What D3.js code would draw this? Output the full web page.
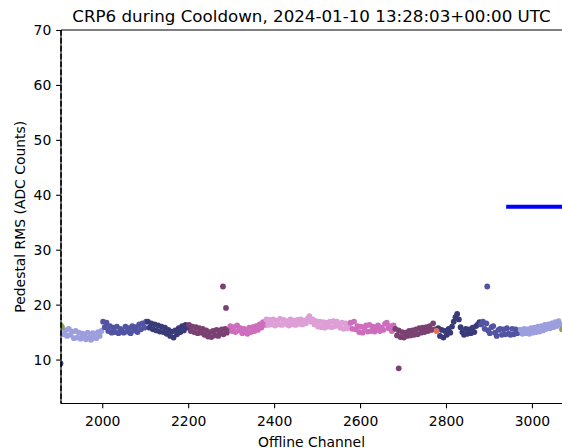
<!DOCTYPE html>
<html lang="en">
<head>
    <meta charset="UTF-8">
    <title>CRP6 pedestal RMS</title>
    <script src="https://cdn.jsdelivr.net/npm/d3@7"></script>
    <style>
        body { margin: 0; background: #fff; }
        text { font-family: "DejaVu Sans", sans-serif; fill: #000; }
    </style>
</head>
<body>
<script>
    // channels in each block are start, start + 4, start + 8 ...
    const step = 4
    const lavender1 = [15.8, 14.6, 15.3, 14.3, 15.6, 14.5, 15.1, 13.9, 15.2, 14.0, 14.9, 13.8, 14.7, 14.3, 13.7, 14.9, 14.0, 13.6, 14.8, 14.2, 13.9, 15.0, 14.3, 15.2]
    const blue1 = [16.9, 15.9, 16.7, 15.2, 16.1, 14.9, 15.8, 15.0, 16.0, 14.8, 15.6, 15.2, 14.9, 16.0, 15.1, 15.7, 14.8, 16.1, 15.3, 15.9, 15.0, 16.4, 15.5, 16.6, 15.8, 16.9]
    const navy1 = [16.9, 15.8, 16.6, 15.5, 16.4, 15.3, 16.2, 15.1, 16.0, 15.0, 15.8, 14.7, 15.4, 14.3, 15.1, 14.0, 15.3, 14.6, 15.7, 15.0, 16.1, 15.3, 16.3, 15.8]
    const purple1 = [16.3, 15.2, 16.0, 15.0, 15.9, 14.8, 15.7, 14.9, 15.6, 14.5, 15.3, 14.2, 15.0, 14.1, 15.2, 14.4, 15.4, 14.3, 14.9, 15.5, 14.6, 15.6, 14.9, 15.4]
    const pink1 = [16.1, 15.2, 15.9, 15.0, 16.2, 15.3, 15.7, 14.8, 15.6, 15.0, 14.7, 15.8, 15.0, 15.9, 15.2, 16.1, 15.4, 16.4, 15.8, 16.8, 16.3]
    const lightPink = [17.3, 16.3, 17.2, 16.4, 17.3, 16.2, 17.1, 16.4, 17.4, 16.3, 17.2, 16.5, 17.0, 16.2, 17.3, 16.4, 17.1, 16.3, 17.2, 16.5,
        17.3, 16.4, 17.1, 16.6, 17.4, 17.9, 16.9, 17.3, 16.4, 17.0, 16.0, 16.9, 15.9, 16.8, 15.8, 16.7, 16.0, 16.9, 15.9, 17.0,
        16.1, 16.9, 16.3, 15.8, 16.7, 15.6, 16.6, 15.7, 16.4]
    const pink2 = [16.7, 15.6, 16.9, 15.5, 16.1, 15.0, 16.0, 14.9, 15.8, 16.2, 15.1, 16.3, 15.2, 16.0, 15.1, 15.9, 16.2, 15.2, 15.8, 15.4, 16.5, 16.7, 15.7, 16.1, 15.2, 16.2]
    const purple2 = [15.6, 14.4, 15.3, 14.1, 15.0, 14.0, 14.9, 14.3, 15.2, 14.4, 15.3, 14.5, 15.5, 14.6, 15.7, 14.9, 15.8, 15.0, 15.9, 15.2, 16.1, 15.4, 16.6, 15.5]
    const navy2 = [15.7, 14.3, 15.4, 14.0, 15.2, 14.5, 15.6, 14.9, 16.0, 16.9, 17.7, 18.3, 17.3, 15.9, 15.0, 14.5, 15.6, 14.7, 15.5, 14.8, 15.8, 15.0, 16.1, 16.4, 16.8]
    const blue2 = [16.4, 16.9, 15.6, 16.6, 15.3, 14.8, 15.9, 16.1, 14.9, 14.3, 15.4, 15.6, 14.5, 15.5, 14.6, 15.7, 14.7, 14.5, 15.6, 14.6, 15.5, 14.8, 15.3]
    const lavender2 = [15.4, 14.7, 15.6, 14.8, 15.5, 14.7, 15.7, 14.9, 15.8, 15.0, 16.0, 15.1, 16.1, 15.3, 16.3, 15.6, 16.4, 15.7, 16.6, 15.9, 16.8, 16.1, 17.0, 16.4]

    // [colour, first channel, values]
    const blocks = [
        ['#9c9ede', 1906, lavender1],
        ['#5254a3', 2002, blue1],
        ['#393b79', 2106, navy1],
        ['#7b4173', 2202, purple1],
        ['#ce6dbd', 2298, pink1],
        ['#de9ed6', 2382, lightPink],
        ['#ce6dbd', 2578, pink2],
        ['#7b4173', 2682, purple2],
        ['#393b79', 2782, navy2],
        ['#5254a3', 2882, blue2],
        ['#9c9ede', 2974, lavender2]
    ]

    // single channels
    const extraChannels = [1904, 1906, 3070, 1903, 2281, 2288, 2690, 2896, 2778]
    const extraValues = [16.2, 15.9, 15.5, 9.3, 23.3, 19.4, 8.4, 23.3, 15.2]
    const extraColors = ['#8ca252', '#8ca252', '#8ca252', '#393b79', '#7b4173', '#7b4173', '#7b4173', '#5254a3', '#e4705f']

    const thresholdChannels = [2940, 3075]
    const thresholdValue = 37.8
    const boundaryChannel = 1904

    const xTicks = [2000, 2200, 2400, 2600, 2800, 3000]
    const yTicks = [10, 20, 30, 40, 50, 60, 70]

    const [width, height] = [562, 448]
    const margin = {top: 30, right: 0, bottom: 44.5, left: 61}
    const tickLen = 4.86

    const x = d3.scaleLinear().domain([1904, 3070]).range([margin.left, width - margin.right])
    const y = d3.scaleLinear().domain([2, 70]).range([height - margin.bottom, margin.top])

    const svg = d3.select('body').append('svg').attr('width', width).attr('height', height)

    svg.append('clipPath').attr('id', 'plot').append('rect')
        .attr('x', margin.left).attr('y', margin.top)
        .attr('width', width - margin.right - margin.left)
        .attr('height', height - margin.bottom - margin.top)

    const points = []
    blocks.forEach(([color, start, values]) => {
        values.forEach((v, i) => points.push({ch: start + i * step, v: v, color: color}))
    })
    extraChannels.forEach((ch, i) => points.push({ch: ch, v: extraValues[i], color: extraColors[i]}))

    const plot = svg.append('g').attr('clip-path', 'url(#plot)')
    plot.selectAll('circle').data(points).enter().append('circle')
        .attr('cx', d => x(d.ch))
        .attr('cy', d => y(d.v))
        .attr('r', 2.9)
        .attr('fill', d => d.color)

    plot.append('line')
        .attr('x1', x(thresholdChannels[0])).attr('x2', x(thresholdChannels[1]))
        .attr('y1', y(thresholdValue)).attr('y2', y(thresholdValue))
        .attr('stroke', '#0000ff').attr('stroke-width', 4)

    // axes
    const xAxis = d3.axisBottom(x).tickValues(xTicks).tickSize(tickLen).tickPadding(tickLen).tickFormat(d3.format('d'))
    const yAxis = d3.axisLeft(y).tickValues(yTicks).tickSize(tickLen).tickPadding(tickLen).tickFormat(d3.format('d'))

    const gx = svg.append('g').attr('transform', `translate(0, ${height - margin.bottom})`).call(xAxis)
    const gy = svg.append('g').attr('transform', `translate(${margin.left}, 0)`).call(yAxis)
    ;[gx, gy].forEach(g => {
        g.select('.domain').remove()
        g.selectAll('.tick line').attr('stroke', '#000').attr('stroke-width', 1.1)
        g.selectAll('.tick text').attr('font-size', 13.9).attr('fill', '#000')
    })
    gx.selectAll('.tick text').attr('dy', '0.93em')

    // spines: left, bottom, top
    const spine = (x1, y1, x2, y2) => svg.append('line')
        .attr('x1', x1).attr('y1', y1).attr('x2', x2).attr('y2', y2)
        .attr('stroke', '#000').attr('stroke-width', 1.1)
    spine(margin.left, margin.top, margin.left, height - margin.bottom)
    spine(margin.left, height - margin.bottom, width, height - margin.bottom)
    spine(margin.left, margin.top, width, margin.top)

    svg.append('line')
        .attr('x1', x(boundaryChannel)).attr('x2', x(boundaryChannel))
        .attr('y1', margin.top).attr('y2', height - margin.bottom)
        .attr('stroke', '#000').attr('stroke-width', 1.5)
        .attr('stroke-dasharray', '5.5,2.4')

    svg.append('text')
        .attr('x', (margin.left + width - margin.right) / 2).attr('y', margin.top - 8.3)
        .attr('text-anchor', 'middle').attr('font-size', 16.7)
        .text('CRP6 during Cooldown, 2024-01-10 13:28:03+00:00 UTC')

    svg.append('text')
        .attr('x', (margin.left + width - margin.right) / 2).attr('y', 446.5)
        .attr('text-anchor', 'middle').attr('font-size', 13.9)
        .text('Offline Channel')

    svg.append('text')
        .attr('transform', `translate(24.7, ${(margin.top + height - margin.bottom) / 2}) rotate(-90)`)
        .attr('text-anchor', 'middle').attr('font-size', 13.9)
        .text('Pedestal RMS (ADC Counts)')
</script>
</body>
</html>
